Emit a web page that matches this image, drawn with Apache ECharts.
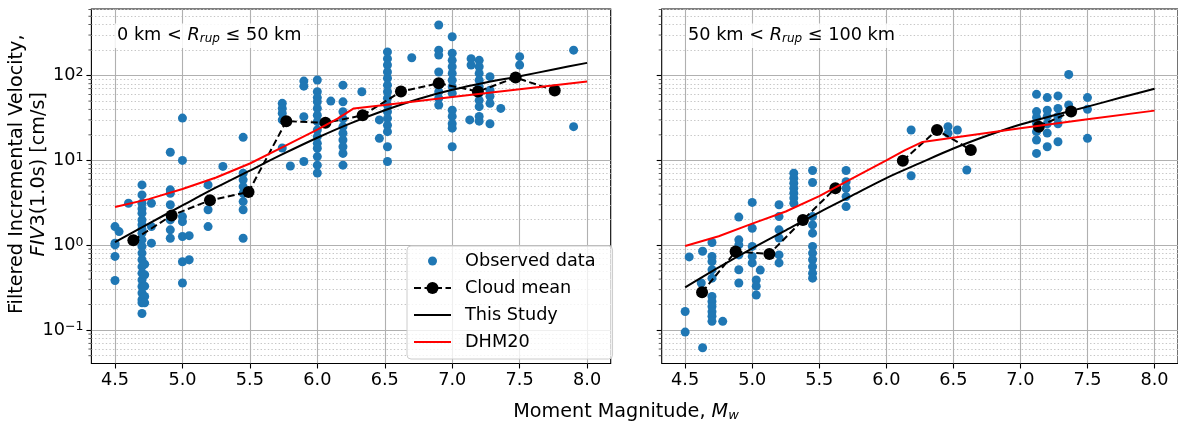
<!DOCTYPE html>
<html>
<head>
<meta charset="utf-8">
<script src="https://cdn.jsdelivr.net/npm/echarts@6/dist/echarts.min.js"></script>
<style>html,body{margin:0;padding:0;background:#fff}#c{width:1178px;height:429px}</style>
</head>
<body>
<div id="c"></div>
<script>
// ---------- data ----------
const xTicks = [4.5, 5.0, 5.5, 6.0, 6.5, 7.0, 7.5, 8.0];
const yMajorTicks = [0.1, 1, 10, 100];
const yMinorTicks = [0.05,0.06,0.07,0.08,0.09,0.2,0.3,0.4,0.5,0.6,0.7,0.8,0.9,2,3,4,5,6,7,8,9,20,30,40,50,60,70,80,90,200,300,400,500,600];

// Left panel: 0 km < Rrup <= 50 km
const leftObsM = [4.50,4.50,4.50,4.50,4.50,4.53,4.60,
  4.70,4.70,4.70,4.70,4.70,4.70,4.70,4.70,4.70,4.70,4.70,4.70,4.70,4.70,4.70,4.70,4.70,4.70,4.70,4.70,4.70,
  4.72,4.72,4.72,4.72,4.72,4.77,4.77,4.77,
  4.91,4.91,4.91,4.91,4.91,4.91,4.91,
  5.00,5.00,5.00,5.00,5.00,5.00,5.00,5.05,5.05,
  5.19,5.19,5.19,5.30,
  5.45,5.45,5.45,5.45,5.45,5.45,5.45,5.45,
  5.74,5.74,5.74,5.74,5.74,5.80,5.90,5.90,5.90,5.90,
  6.00,6.00,6.00,6.00,6.00,6.00,6.00,6.00,6.00,6.00,6.00,6.00,6.00,6.00,6.10,
  6.19,6.19,6.19,6.19,6.19,6.19,6.19,6.19,6.19,6.19,6.33,6.46,6.46,
  6.52,6.52,6.52,6.52,6.52,6.52,6.52,6.52,6.52,6.52,6.52,6.52,6.52,6.52,6.52,6.70,
  6.90,6.90,6.90,6.90,6.90,6.90,6.90,6.90,
  7.00,7.00,7.00,7.00,7.00,7.00,7.00,7.00,7.00,7.00,7.00,7.00,7.00,
  7.13,7.14,7.14,
  7.20,7.20,7.20,7.20,7.20,7.20,7.20,7.20,7.20,7.20,
  7.28,7.28,7.28,7.28,7.28,7.36,7.50,7.50,7.90,7.90];
const leftObsV = [1.66,1.06,1.01,0.74,0.385,1.45,3.13,
  5.15,3.92,3.13,2.7,2.39,1.99,1.75,1.55,1.39,1.16,0.97,0.81,0.675,0.56,0.47,0.39,0.327,0.274,0.229,0.21,0.157,
  0.6,0.45,0.33,0.25,0.21,3.13,1.66,1.06,
  12.5,4.5,4.1,3.0,1.99,1.52,1.21,
  31.5,10.0,2.18,1.9,1.27,0.64,0.36,1.3,0.675,
  5.15,2.62,1.66,8.5,
  18.7,7.06,5.9,4.92,4.1,3.27,2.62,1.21,
  47,41,36,30,14,8.6,86,75,32.8,9.7,
  88.5,64.5,55,49,41,34,28.6,22.8,19.1,15.9,13.9,11.1,8.8,7.1,50,
  77,49,37.5,31,25,20.9,17.4,14.5,12.1,8.8,64.5,30,18.2,
  190,158,133,110,93,77,64.5,54,45,37.5,31.3,26,21.8,14.5,9.7,162,
  394,199,174,110,77,64.5,54,45,
  286,183,151,127,106,88,74,62,39,33,27,24,14.5,
  30,158,133,
  151,127,106,88,74,62,51,43,33,29,
  97,67,57,47,27,41,167,133,199,25];
const leftMeanM = [4.636,4.92,5.204,5.49,5.77,6.06,6.336,6.62,6.90,7.19,7.47,7.76];
const leftMeanV = [1.15,2.25,3.39,4.25,29,27.7,34,64.7,81.2,64.7,94.6,66.5];
const curveM = [4.5,4.75,5.0,5.25,5.5,5.75,6.0,6.25,6.5,6.75,7.0,7.25,7.5,7.75,8.0];
const leftStudyV = [1.09,1.8,2.95,4.8,7.6,12,18.5,27.5,39,53,68,83,98,118,141];
const leftDhmM = [4.5,4.75,5.0,5.25,5.5,5.75,6.0,6.15,6.27,6.5,7.0,7.5,8.0];
const leftDhmV = [2.83,3.5,4.6,6.3,9.2,14.5,23,31,41,45,56,69,85];

// Right panel: 50 km < Rrup <= 100 km
const rightObsM = [4.50,4.50,4.53,4.62,4.63,4.63,
  4.70,4.70,4.70,4.70,4.70,4.70,4.70,4.70,4.70,4.70,4.70,4.78,
  4.90,4.90,4.90,4.90,4.90,4.90,
  5.00,5.00,5.00,5.00,5.00,5.03,5.03,5.03,5.06,
  5.20,5.20,5.20,5.20,5.20,5.20,
  5.31,5.31,5.31,5.31,5.31,5.31,5.31,
  5.45,5.45,5.45,5.45,5.45,5.45,5.45,5.45,5.45,5.45,5.45,
  5.70,5.70,5.70,5.70,5.70,
  6.185,6.185,6.46,6.46,6.53,6.60,
  7.12,7.12,7.12,7.12,7.12,7.12,7.12,
  7.20,7.20,7.20,7.20,7.20,7.20,
  7.28,7.28,7.28,7.28,7.28,7.36,7.36,7.50,7.50,7.50];
const rightObsV = [0.166,0.095,0.73,0.36,0.85,0.062,
  1.08,0.74,0.645,0.515,0.41,0.25,0.218,0.19,0.165,0.146,0.127,0.127,
  2.15,1.16,1.01,0.77,0.515,0.36,
  3.2,1.59,0.97,0.74,0.62,0.39,0.33,0.26,0.51,
  3.0,2.18,1.52,1.22,0.77,0.62,
  7.06,6.16,5.38,4.7,4.1,3.6,3.13,
  7.6,5.5,2.18,1.74,1.39,0.97,0.81,0.675,0.56,0.47,0.41,
  7.6,5.6,4.7,3.75,2.86,
  22.8,6.6,25,20.9,22.8,7.7,
  60,37.6,32,27,21.8,17.4,12.1,
  55,39,33,27,21,14.5,
  57.5,41,33,27,16.6,103,45,55,40,18.2];
const rightMeanM = [4.626,4.876,5.128,5.378,5.62,5.87,6.123,6.378,6.63,6.88,7.137,7.378];
const rightMeanV = [0.28,0.846,0.79,1.99,4.7,null,9.9,22.8,13.3,null,25,37.6];
const rightStudyV = [0.32,0.55,0.92,1.5,2.45,3.9,6.2,9.3,13.8,19.5,26.5,34,43,55,70];
const rightDhmM = [4.5,4.75,5.0,5.25,5.5,5.75,6.0,6.14,6.27,7.0,7.5,8.0];
const rightDhmV = [0.98,1.28,1.8,2.5,3.8,6.2,10,13.2,16.5,24,30.5,38.6];

// ---------- chart ----------
const FONT = 'DejaVu Sans';
const FS = 17.7;
const FS_AX = 19.2;
const X_MIN = 4.325, X_MAX = 8.175, Y_MIN = 0.0405, Y_MAX = 608;
const BLUE = '#1f77b4';
const zip = (a, b) => a.map((v, i) => [v, b[i] == null ? '-' : b[i]]);

function supLabel(v) {
  const e = Math.round(Math.log10(v));
  if (Math.abs(Math.log10(v) - e) > 1e-6) return '';
  return '10{sup|' + (e < 0 ? '\u2212' + (-e) : e) + '}';
}

function gridLines(idx) {
  const items = [];
  yMinorTicks.forEach(v => items.push({yAxis: v, lineStyle: {color: '#c6c6c6', width: 1, type: [1.4, 2.2]}}));
  yMajorTicks.forEach(v => items.push({yAxis: v, lineStyle: {color: '#b0b0b0', width: 1.1, type: 'solid'}}));
  xTicks.forEach(v => items.push({xAxis: v, lineStyle: {color: '#b0b0b0', width: 1.1, type: 'solid'}}));
  return {
    type: 'line', name: 'grid' + idx, xAxisIndex: idx, yAxisIndex: idx, data: [], z: 0, zlevel: 0, silent: true,
    markLine: {silent: true, z: 0, zlevel: 0, symbol: ['none', 'none'], label: {show: false}, animation: false,
      emphasis: {disabled: true}, data: items}
  };
}
function minorTickSeries(idx) {
  return {
    type: 'scatter', name: 'mt' + idx, xAxisIndex: idx, yAxisIndex: idx, clip: false, silent: true, z: 6,
    symbol: 'rect', symbolSize: [3, 0.8], symbolOffset: [-1.5, 0], itemStyle: {color: '#000'},
    data: yMinorTicks.map(v => [X_MIN, v])
  };
}
function panelSeries(idx, obsM, obsV, meanM, meanV, studyV, dhmM, dhmV) {
  return [
    gridLines(idx),
    {type: 'scatter', name: 'Observed data', xAxisIndex: idx, yAxisIndex: idx, z: 2,
      symbol: 'circle', symbolSize: 9, itemStyle: {color: BLUE, opacity: 1}, data: zip(obsM, obsV)},
    {type: 'line', name: 'Cloud mean', xAxisIndex: idx, yAxisIndex: idx, z: 3, connectNulls: false,
      symbol: 'circle', symbolSize: 12, showSymbol: true, itemStyle: {color: '#000'},
      lineStyle: {color: '#000', width: 2, type: [7, 3.5]}, data: zip(meanM, meanV)},
    {type: 'line', name: 'This Study', xAxisIndex: idx, yAxisIndex: idx, z: 4, smooth: 0.3,
      symbol: 'none', itemStyle: {color: '#000'}, lineStyle: {color: '#000', width: 2}, data: zip(curveM, studyV)},
    {type: 'line', name: 'DHM20', xAxisIndex: idx, yAxisIndex: idx, z: 5,
      symbol: 'none', itemStyle: {color: '#ff0000'}, lineStyle: {color: '#ff0000', width: 2}, data: zip(dhmM, dhmV)},
    minorTickSeries(idx)
  ];
}

function makeRich(fs) {
  return {
    i: {fontFamily: FONT, fontSize: fs, fontStyle: 'italic', color: '#000'},
    s: {fontFamily: FONT, fontSize: Math.round(fs * 0.7), fontStyle: 'italic', color: '#000', verticalAlign: 'bottom', padding: [7, 0, 0, 0]}
  };
}

function xAxisCfg(idx) {
  return {
    type: 'value', gridIndex: idx, min: X_MIN, max: X_MAX,
    axisLine: {show: false},
    axisTick: {show: true, customValues: xTicks, length: 5, lineStyle: {color: '#000', width: 1.1}},
    axisLabel: {show: true, customValues: xTicks, margin: 8, color: '#000', fontSize: FS, fontFamily: FONT,
      formatter: v => v.toFixed(1)},
    splitLine: {show: false}
  };
}
function yAxisCfg(idx, showLabels) {
  const c = {
    type: 'log', logBase: 10, gridIndex: idx, min: Y_MIN, max: Y_MAX,
    axisLine: {show: false},
    axisTick: {show: true, customValues: yMajorTicks, length: 5, lineStyle: {color: '#000', width: 1.1}},
    axisLabel: {show: showLabels, customValues: yMajorTicks, margin: 8, color: '#000', fontSize: FS, fontFamily: FONT,
      formatter: supLabel,
      rich: {sup: {fontSize: 12.5, fontFamily: FONT, color: '#000', verticalAlign: 'top', padding: [0, 0, 6, 0]}}},
    splitLine: {show: false}, minorSplitLine: {show: false}
  };
  if (showLabels) {
    c.name = 'Filtered Incremental Velocity,\n{i|FIV}3(1.0s) [cm/s]';
    c.nameLocation = 'middle';
    c.nameRotate = 90;
    c.nameGap = 41;
    c.nameMoveOverlap = false;
    c.nameTextStyle = {fontSize: FS_AX, fontFamily: FONT, color: '#000', lineHeight: 22, align: 'center',
      padding: [0, 0, 0, 24],
      rich: {i: {fontSize: FS_AX, fontFamily: FONT, fontStyle: 'italic', color: '#000', lineHeight: 22}}};
  }
  return c;
}

const chart = echarts.init(document.getElementById('c'), null, {renderer: 'canvas'});
const gridBase = {top: 9, height: 354.5, width: 519.3, show: true, borderColor: '#000', borderWidth: 1.1, backgroundColor: 'rgba(0,0,0,0)'};
const titleRich = makeRich(FS);
const axRich = makeRich(FS_AX);
const lineIcon = 'path://M0,0 M37,15 M0,6.5 L37,6.5 L37,8.5 L0,8.5 Z';
chart.setOption({
  animation: false,
  textStyle: {fontFamily: FONT},
  grid: [Object.assign({left: 91.4}, gridBase), Object.assign({left: 661.7}, gridBase)],
  xAxis: [xAxisCfg(0), xAxisCfg(1)],
  yAxis: [yAxisCfg(0, true), yAxisCfg(1, false)],
  title: [
    {text: '0 km < {i|R}{s|rup} \u2264 50 km', left: 115, top: 23, padding: [3, 3, 3, 2],
      backgroundColor: 'rgba(255,255,255,0.85)',
      textStyle: {fontSize: FS, fontWeight: 'normal', color: '#000', fontFamily: FONT, rich: titleRich}},
    {text: '50 km < {i|R}{s|rup} \u2264 100 km', left: 686, top: 23, padding: [3, 3, 3, 2],
      backgroundColor: 'rgba(255,255,255,0.85)',
      textStyle: {fontSize: FS, fontWeight: 'normal', color: '#000', fontFamily: FONT, rich: titleRich}}
  ],
  legend: {
    orient: 'vertical', left: 407, top: 246, z: 10,
    data: [
      {name: 'Observed data', icon: 'path://M0,0 M15,15 M12,7.5 A4.5,4.5 0 1 1 3,7.5 A4.5,4.5 0 1 1 12,7.5 Z'},
      'Cloud mean',
      {name: 'This Study', icon: lineIcon},
      {name: 'DHM20', icon: lineIcon}],
    itemWidth: 37, itemHeight: 15, itemGap: 9,
    padding: [6, 17, 8, 6],
    backgroundColor: 'rgba(255,255,255,0.8)', borderColor: '#cccccc', borderWidth: 1, borderRadius: 4,
    textStyle: {fontSize: FS, fontFamily: FONT, color: '#000', padding: [0, 0, 0, 9], lineHeight: 17},
    selectedMode: false
  },
  graphic: [{
    type: 'text', x: 626, y: 412, z: 10,
    style: {text: 'Moment Magnitude, {i|M}{s|w}', fontSize: FS_AX, fontFamily: FONT, fill: '#000',
      align: 'center', verticalAlign: 'middle', rich: axRich}
  }],
  series: [].concat(
    panelSeries(0, leftObsM, leftObsV, leftMeanM, leftMeanV, leftStudyV, leftDhmM, leftDhmV),
    panelSeries(1, rightObsM, rightObsV, rightMeanM, rightMeanV, rightStudyV, rightDhmM, rightDhmV)
  )
});
</script>
</body>
</html>
